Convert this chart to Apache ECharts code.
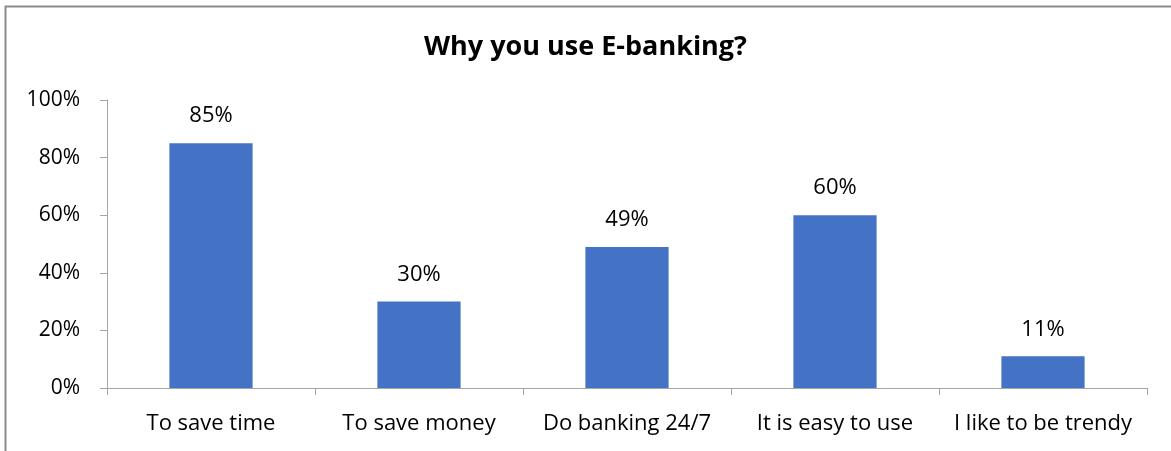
<!DOCTYPE html>
<html>
<head>
<meta charset="utf-8">
<script src="https://cdn.jsdelivr.net/npm/echarts@6/dist/echarts.min.js"></script>
<style>
  html, body { margin: 0; padding: 0; background: #ffffff; }
  #chart { width: 1171px; height: 451px; }
</style>
</head>
<body>
<div id="chart"></div>
<script>
// Reasons for using e-banking (share of respondents, %)
const categories = ['To save time', 'To save money', 'Do banking 24/7', 'It is easy to use', 'I like to be trendy'];
const shares = [85, 30, 49, 60, 11];
const yTicks = [0, 20, 40, 60, 80, 100];

const FONT = '"Open Sans", "Noto Sans", sans-serif';
const chart = echarts.init(document.getElementById('chart'), null, { renderer: 'canvas' });

chart.setOption({
  animation: false,
  backgroundColor: '#ffffff',
  title: {
    text: 'Why you use E-banking?',
    left: 'center',
    top: 29,
    textStyle: { fontFamily: FONT, fontSize: 27, fontWeight: 'bold', color: '#000000' }
  },
  graphic: [{
    type: 'rect',
    shape: { x: 5.5, y: 6.5, width: 1300, height: 600 },
    style: { fill: 'none', stroke: '#8c8c8c', lineWidth: 2 },
    silent: true
  }],
  grid: { left: 107, right: 24, top: 100, bottom: 63 },
  xAxis: {
    type: 'category',
    data: categories,
    axisLine: { show: true, lineStyle: { color: '#a6a6a6', width: 1 } },
    axisTick: { show: true, alignWithLabel: false, length: 7, lineStyle: { color: '#a6a6a6' } },
    axisLabel: { interval: 0, margin: 25, fontFamily: FONT, fontSize: 22, color: '#000000' },
    splitLine: { show: false }
  },
  yAxis: {
    type: 'value',
    min: yTicks[0],
    max: yTicks[yTicks.length - 1],
    interval: 20,
    axisLine: { show: true, lineStyle: { color: '#a6a6a6', width: 1 } },
    axisTick: { show: true, length: 7, lineStyle: { color: '#a6a6a6' } },
    axisLabel: { margin: 27, fontFamily: FONT, fontSize: 21, color: '#000000', formatter: v => v + '%' },
    splitLine: { show: false }
  },
  series: [{
    type: 'bar',
    data: shares,
    barWidth: '40%',
    itemStyle: { color: '#4472c4' },
    label: {
      show: true,
      position: 'top',
      distance: 16,
      fontFamily: FONT,
      fontSize: 22,
      color: '#000000',
      formatter: p => p.value + '%'
    }
  }]
});
</script>
</body>
</html>
